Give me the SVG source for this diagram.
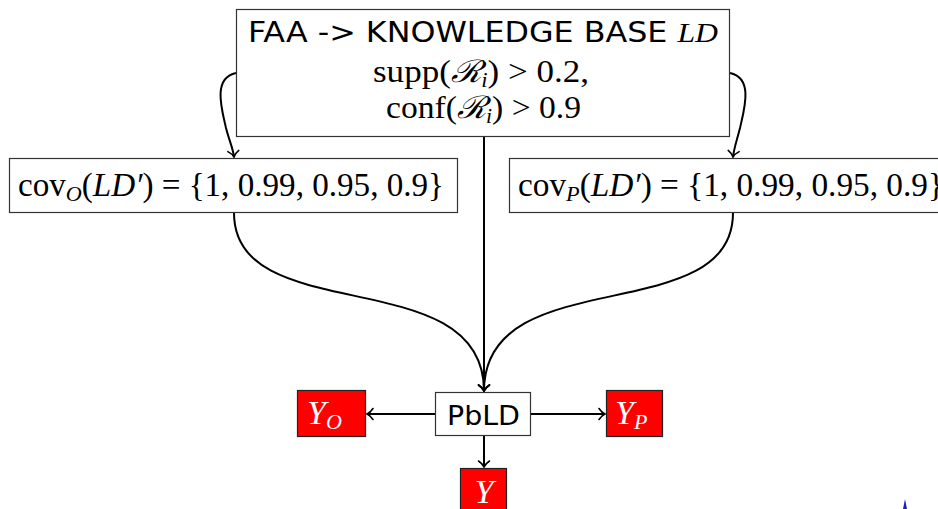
<svg xmlns="http://www.w3.org/2000/svg" width="938" height="509" viewBox="0 0 938 509">
<style>
.box{fill:#fff;stroke:#333;stroke-width:1.2}
.red{fill:#ff0000;stroke:#222;stroke-width:1.2}
.edge{fill:none;stroke:#000;stroke-width:2}
.sans{font-family:"DejaVu Sans","Liberation Sans",sans-serif;fill:#000}
.math{font-family:"Liberation Serif","DejaVu Serif",serif;fill:#000}
.it{font-style:italic}
.w{fill:#fff}
</style>
<defs>
<marker id="arr" markerUnits="userSpaceOnUse" markerWidth="14" markerHeight="14" refX="0" refY="0" viewBox="-8 -7 10 14" orient="auto">
<path d="M-6,-5.5 C-4,-2.5 -1.5,-0.6 0,0 C-1.5,0.6 -4,2.5 -6,5.5" fill="none" stroke="#000" stroke-width="1.6" stroke-linecap="round"/>
</marker>
</defs>
<g id="connectors">
<path class="edge" d="M236,73 C212,78 222,110 226,128 C229,140 233,148 234,157" marker-end="url(#arr)"/>
<path class="edge" d="M730,73 C754,78 744,110 740,128 C737,140 734,148 733,157" marker-end="url(#arr)"/>
<path class="edge" d="M484,137 L484,391" marker-end="url(#arr)"/>
<path class="edge" d="M234,213 C234,330 484,260 484,391" marker-end="url(#arr)"/>
<path class="edge" d="M733,213 C733,330 484,260 484,391" marker-end="url(#arr)"/>
<path class="edge" d="M435,414 L367,414" marker-end="url(#arr)"/>
<path class="edge" d="M531,414 L605,414" marker-end="url(#arr)"/>
<path class="edge" d="M484,436 L484,467" marker-end="url(#arr)"/>
</g>
<g id="kb">
<rect class="box" x="236.5" y="9.5" width="493" height="127"/>
<text x="248" y="42" font-size="28" textLength="470" lengthAdjust="spacingAndGlyphs"><tspan class="sans">FAA -&gt; KNOWLEDGE BASE </tspan><tspan class="math it">LD</tspan></text>
<text class="math" x="373" y="82" font-size="31" textLength="216" lengthAdjust="spacingAndGlyphs">supp(<tspan class="it">ℛ</tspan><tspan class="it" font-size="20" dy="5">i</tspan><tspan dy="-5">) &gt; 0.2,</tspan></text>
<text class="math" x="386" y="118" font-size="31" textLength="195" lengthAdjust="spacingAndGlyphs">conf(<tspan class="it">ℛ</tspan><tspan class="it" font-size="20" dy="5">i</tspan><tspan dy="-5">) &gt; 0.9</tspan></text>
</g>
<g id="covO">
<rect class="box" x="9.5" y="158.5" width="448" height="54"/>
<text class="math" x="18" y="196" font-size="33" textLength="426" lengthAdjust="spacingAndGlyphs">cov<tspan class="it" font-size="22" dy="5">O</tspan><tspan dy="-5">(</tspan><tspan class="it">LD′</tspan>) = {1, 0.99, 0.95, 0.9}</text>
</g>
<g id="covP">
<rect class="box" x="509.5" y="158.5" width="448" height="54"/>
<text class="math" x="518" y="196" font-size="33" textLength="426" lengthAdjust="spacingAndGlyphs">cov<tspan class="it" font-size="22" dy="5">P</tspan><tspan dy="-5">(</tspan><tspan class="it">LD′</tspan>) = {1, 0.99, 0.95, 0.9}</text>
</g>
<g id="pbld">
<rect class="box" x="435.5" y="392.5" width="95" height="43"/>
<text class="sans" x="447" y="425" font-size="27" textLength="73" lengthAdjust="spacingAndGlyphs">PbLD</text>
</g>
<g id="yO">
<rect class="red" x="297.5" y="390.5" width="68" height="46"/>
<text class="math w" x="307" y="424" font-size="34"><tspan class="it">Y</tspan><tspan class="it" font-size="22" dy="5">O</tspan></text>
</g>
<g id="yP">
<rect class="red" x="606.5" y="390.5" width="56" height="46"/>
<text class="math w" x="615" y="424" font-size="34"><tspan class="it">Y</tspan><tspan class="it" font-size="22" dy="5">P</tspan></text>
</g>
<g id="y">
<rect class="red" x="460.5" y="468.5" width="46" height="45"/>
<text class="math w it" x="484" y="503" text-anchor="middle" font-size="34">Y</text>
</g>
<polygon points="903,509 905,499 907,509" fill="#2020c0"/>
</svg>
